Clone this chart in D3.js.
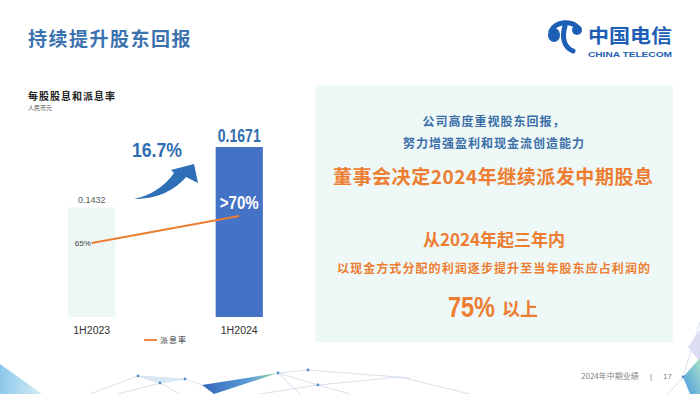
<!DOCTYPE html>
<html>
<head>
<meta charset="utf-8">
<script src="https://cdn.jsdelivr.net/npm/d3@7"></script>
<style>
    body { margin: 0; background: #fff; }
    svg { display: block; font-family: 'Liberation Sans', Arial, sans-serif; }
    .cjk { font-family: 'Noto Sans CJK SC', sans-serif; }
</style>
</head>
<body>
<svg id="slide" width="700" height="394"></svg>
<script>
// chart data
const periods = ['1H2023', '1H2024'];
const dps = [0.1432, 0.1671];            // 每股股息 (人民币元)
const dpsLabels = ['0.1432', '0.1671'];
const payout = [65, 70];                 // 派息率 %
const payoutLabels = ['65%', '>70%'];
const growthLabel = '16.7%';

// right panel text
const panelLines = [
    '公司高度重视股东回报，',
    '努力增强盈利和现金流创造能力'
];

const BLUE = '#2f6db0';
const ORANGE = '#ed7d31';

const svg = d3.select('#slide');

// page title
svg.append('text').attr('class', 'cjk')
    .attr('x', 28).attr('y', 46)
    .attr('font-size', 19).attr('font-weight', 700)
    .attr('letter-spacing', 1.5)
    .attr('fill', '#3b72b0')
    .text('持续提升股东回报');

// logo
const logo = svg.append('g').attr('fill', 'none').attr('stroke', '#1d5fb4').attr('stroke-linecap', 'round');
logo.append('ellipse').attr('cx', 554).attr('cy', 35).attr('rx', 6).attr('ry', 7).attr('fill', '#1d5fb4').attr('stroke', 'none');
logo.append('path').attr('d', 'M551,31 C556,21 572,20 578,28').attr('stroke-width', 5);
logo.append('ellipse').attr('cx', 577).attr('cy', 30).attr('rx', 5).attr('ry', 5).attr('fill', '#1d5fb4').attr('stroke', 'none');
logo.append('path').attr('d', 'M565,26 C562,36 563,47 573,51').attr('stroke-width', 5);
svg.append('text').attr('class', 'cjk')
    .attr('x', 588).attr('y', 43)
    .attr('font-size', 19).attr('font-weight', 700).attr('fill', '#1d5fb4')
    .attr('textLength', 84).attr('lengthAdjust', 'spacingAndGlyphs')
    .text('中国电信');
svg.append('text')
    .attr('x', 588).attr('y', 57)
    .attr('font-size', 8).attr('font-weight', 700).attr('fill', '#1d5fb4')
    .attr('textLength', 84).attr('lengthAdjust', 'spacingAndGlyphs')
    .text('CHINA TELECOM');

// chart title
svg.append('text').attr('class', 'cjk')
    .attr('x', 28).attr('y', 100)
    .attr('font-size', 10).attr('font-weight', 700).attr('fill', '#222')
    .attr('letter-spacing', 1)
    .text('每股股息和派息率');
svg.append('text').attr('class', 'cjk')
    .attr('x', 28).attr('y', 110)
    .attr('font-size', 6).attr('fill', '#555')
    .text('人民币元');

// scales
const x = d3.scaleBand()
    .domain(periods)
    .range([18, 313])
    .paddingInner(0.68)
    .paddingOuter(0.34);
const y = d3.scaleLinear().domain([0.1, 0.1671]).range([317, 147]);
const y2 = d3.scaleLinear().domain([65, 70]).range([243, 216]);
const cx = d => x(d) + x.bandwidth() / 2;

const chart = svg.append('g');

// bars
chart.selectAll('rect.bar')
    .data(dps)
    .enter()
    .append('rect')
    .attr('class', 'bar')
    .attr('x', (d, i) => x(periods[i]))
    .attr('y', d => y(d))
    .attr('width', x.bandwidth())
    .attr('height', d => y.range()[0] - y(d))
    .attr('fill', (d, i) => i === 0 ? '#edf7f6' : '#4472c4');

// bar value labels
chart.append('text')
    .attr('x', cx(periods[0])).attr('y', y(dps[0]) - 5)
    .attr('text-anchor', 'middle')
    .attr('font-size', 9).attr('fill', '#595959')
    .text(dpsLabels[0]);
chart.append('text')
    .attr('x', cx(periods[1])).attr('y', y(dps[1]) - 5)
    .attr('text-anchor', 'middle')
    .attr('font-size', 19).attr('font-weight', 700).attr('fill', BLUE)
    .attr('textLength', 43).attr('lengthAdjust', 'spacingAndGlyphs')
    .text(dpsLabels[1]);

// category axis labels
chart.selectAll('text.cat')
    .data(periods)
    .enter()
    .append('text')
    .attr('class', 'cat')
    .attr('x', d => cx(d)).attr('y', 334)
    .attr('text-anchor', 'middle')
    .attr('font-size', 10).attr('fill', '#333')
    .attr('textLength', 37).attr('lengthAdjust', 'spacingAndGlyphs')
    .text(d => d);

// payout line
const line = d3.line()
    .x((d, i) => cx(periods[i]))
    .y(d => y2(d));
chart.append('path')
    .datum(payout)
    .attr('d', line)
    .attr('fill', 'none')
    .attr('stroke', ORANGE)
    .attr('stroke-width', 1.8);

chart.append('text')
    .attr('x', cx(periods[0]) - 1).attr('y', y2(payout[0]) + 3)
    .attr('text-anchor', 'end')
    .attr('font-size', 8).attr('fill', '#404040')
    .text(payoutLabels[0]);
chart.append('text')
    .attr('x', cx(periods[1])).attr('y', y2(payout[1]) - 7)
    .attr('text-anchor', 'middle')
    .attr('font-size', 18).attr('font-weight', 700).attr('fill', '#fff')
    .attr('textLength', 39).attr('lengthAdjust', 'spacingAndGlyphs')
    .text(payoutLabels[1]);

// growth arrow + label
chart.append('path')
    .attr('d', 'M134,199 C150,196 165,186 174,173 L171,170 L194,164 L198,183 L186,177 C175,190 158,199 134,199 Z')
    .attr('fill', '#2e6fb7');
chart.append('text')
    .attr('x', 157).attr('y', 157)
    .attr('text-anchor', 'middle')
    .attr('font-size', 21).attr('font-weight', 700).attr('fill', BLUE)
    .attr('textLength', 50).attr('lengthAdjust', 'spacingAndGlyphs')
    .text(growthLabel);

// legend
chart.append('line')
    .attr('x1', 144).attr('x2', 157).attr('y1', 340).attr('y2', 340)
    .attr('stroke', ORANGE).attr('stroke-width', 1.8);
chart.append('text').attr('class', 'cjk')
    .attr('x', 160).attr('y', 343)
    .attr('font-size', 8).attr('fill', '#333')
    .attr('letter-spacing', 1)
    .text('派息率');

// right panel
const panel = svg.append('g');
panel.append('rect')
    .attr('x', 315).attr('y', 85).attr('width', 358).attr('height', 257)
    .attr('fill', '#eef8f6');
const pc = 494;
panel.selectAll('text.intro')
    .data(panelLines)
    .enter()
    .append('text')
    .attr('class', 'cjk intro')
    .attr('x', pc).attr('y', (d, i) => 126 + i * 22)
    .attr('text-anchor', 'middle')
    .attr('font-size', 12).attr('font-weight', 700).attr('fill', '#3a6ea8')
    .attr('letter-spacing', 1)
    .text(d => d);
panel.append('text').attr('class', 'cjk')
    .attr('x', 333).attr('y', 184)
    .attr('font-size', 19).attr('font-weight', 700).attr('fill', ORANGE)
    .attr('textLength', 320).attr('lengthAdjust', 'spacing')
    .text('董事会决定2024年继续派发中期股息');
panel.append('text').attr('class', 'cjk')
    .attr('x', pc).attr('y', 246)
    .attr('text-anchor', 'middle')
    .attr('font-size', 17).attr('font-weight', 700).attr('fill', ORANGE)
    .text('从2024年起三年内');
panel.append('text').attr('class', 'cjk')
    .attr('x', 337).attr('y', 273)
    .attr('font-size', 12).attr('font-weight', 700).attr('fill', ORANGE)
    .attr('textLength', 313).attr('lengthAdjust', 'spacing')
    .text('以现金方式分配的利润逐步提升至当年股东应占利润的');
panel.append('text')
    .attr('x', 448).attr('y', 317)
    .attr('font-size', 26).attr('font-weight', 700).attr('fill', ORANGE)
    .attr('textLength', 47).attr('lengthAdjust', 'spacingAndGlyphs')
    .attr('transform', 'translate(0,317) scale(1,1.15) translate(0,-317)')
    .text('75%');
panel.append('text').attr('class', 'cjk')
    .attr('x', 502).attr('y', 316)
    .attr('font-size', 18).attr('font-weight', 700).attr('fill', ORANGE)
    .text('以上');

// footer
svg.append('text').attr('class', 'cjk')
    .attr('x', 581).attr('y', 379)
    .attr('font-size', 8).attr('fill', '#7f7f7f')
    .text('2024年中期业绩');
svg.append('text')
    .attr('x', 650).attr('y', 379)
    .attr('font-size', 8).attr('fill', '#7f7f7f')
    .text('|');
svg.append('text')
    .attr('x', 663).attr('y', 379)
    .attr('font-size', 8).attr('fill', '#7f7f7f')
    .text('17');

// bottom decoration
const defs = svg.append('defs');
const g1 = defs.append('linearGradient').attr('id', 'gBlueGreen');
g1.append('stop').attr('offset', '0%').attr('stop-color', '#3467b8');
g1.append('stop').attr('offset', '60%').attr('stop-color', '#5a9bd8');
g1.append('stop').attr('offset', '100%').attr('stop-color', '#93d6a8');
const g2 = defs.append('linearGradient').attr('id', 'gLight');
g2.append('stop').attr('offset', '0%').attr('stop-color', '#8cc8ec');
g2.append('stop').attr('offset', '100%').attr('stop-color', '#d4eef3');
const g3 = defs.append('linearGradient').attr('id', 'gRight').attr('x1', 0).attr('y1', 1).attr('x2', 1).attr('y2', 0);
g3.append('stop').attr('offset', '0%').attr('stop-color', '#4b9be0');
g3.append('stop').attr('offset', '100%').attr('stop-color', '#a9e0c9');

const deco = svg.append('g');
const netLines = [
    [[90, 394], [138, 376]], [[138, 376], [185, 379]], [[138, 376], [160, 383]],
    [[118, 394], [160, 383]], [[160, 383], [185, 379]], [[185, 379], [202, 385]],
    [[160, 383], [180, 394]], [[278, 373], [308, 370]], [[308, 370], [410, 378]],
    [[278, 373], [318, 385]], [[318, 385], [400, 377]], [[278, 373], [300, 394]],
    [[318, 385], [350, 394]], [[260, 394], [318, 385]], [[400, 377], [470, 394]],
    [[700, 322], [683, 377]], [[683, 377], [668, 394]], [[688, 347], [700, 340]]
];
deco.selectAll('line')
    .data(netLines)
    .enter()
    .append('line')
    .attr('x1', d => d[0][0]).attr('y1', d => d[0][1])
    .attr('x2', d => d[1][0]).attr('y2', d => d[1][1])
    .attr('stroke', '#c6d3df').attr('stroke-width', 0.7);
deco.append('polygon').attr('points', '0,364 0,394 42,394').attr('fill', 'url(#gLight)');
deco.append('polygon').attr('points', '138,376 185,379 160,383').attr('fill', '#d6e6f5');
deco.append('polygon').attr('points', '202,385 278,373 214,394').attr('fill', 'url(#gBlueGreen)');
deco.append('polygon').attr('points', '688,347 700,330 700,362').attr('fill', '#dcdcf3');
deco.append('polygon').attr('points', '683,377 700,358 700,394 690,394').attr('fill', 'url(#gRight)');
const dots = [[138, 376], [185, 379], [160, 383], [278, 373], [308, 370], [318, 385], [683, 377]];
deco.selectAll('circle')
    .data(dots)
    .enter()
    .append('circle')
    .attr('cx', d => d[0]).attr('cy', d => d[1]).attr('r', 1.4)
    .attr('fill', '#5b8fc9');
</script>
</body>
</html>
